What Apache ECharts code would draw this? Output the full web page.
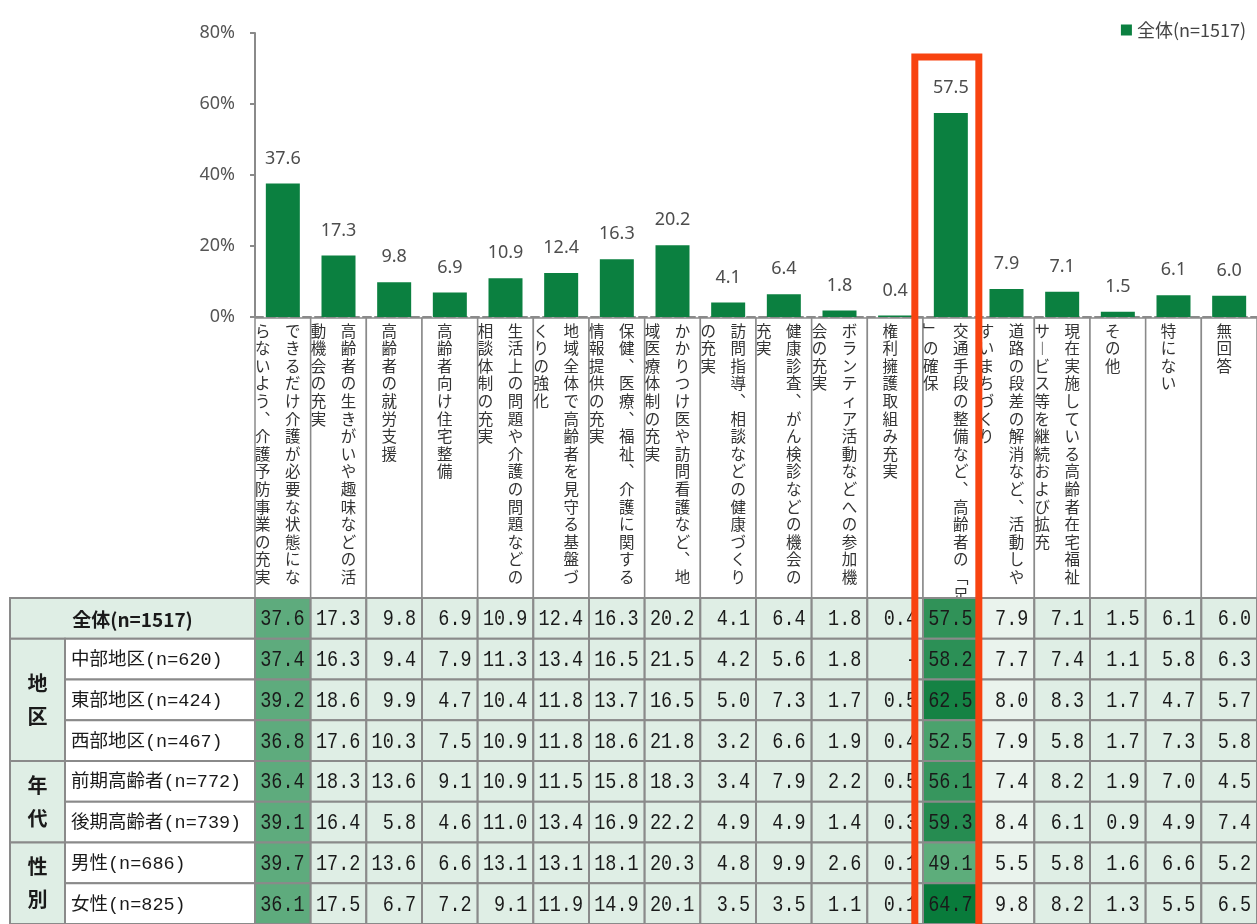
<!DOCTYPE html>
<html>
<head>
    <meta charset="utf-8">
    <script src="https://cdn.jsdelivr.net/npm/echarts@6/dist/echarts.min.js"></script>
    <style>
        html, body { margin: 0; padding: 0; background: #fff; }
        #main { width: 1257px; height: 924px; }
    </style>
</head>
<body>
    <div id="main"></div>
    <script>

        var categories = [
            'できるだけ介護が必要な状態にならないよう、介護予防事業の充実',
            '高齢者の生きがいや趣味などの活動機会の充実',
            '高齢者の就労支援',
            '高齢者向け住宅整備',
            '生活上の問題や介護の問題などの相談体制の充実',
            '地域全体で高齢者を見守る基盤づくりの強化',
            '保健、医療、福祉、介護に関する情報提供の充実',
            'かかりつけ医や訪問看護など、地域医療体制の充実',
            '訪問指導、相談などの健康づくりの充実',
            '健康診査、がん検診などの機会の充実',
            'ボランティア活動などへの参加機会の充実',
            '権利擁護取組み充実',
            '交通手段の整備など、高齢者の「足」の確保',
            '道路の段差の解消など、活動しやすいまちづくり',
            '現在実施している高齢者在宅福祉サービス等を継続および拡充',
            'その他',
            '特にない',
            '無回答'
        ];

        var seriesName = '全体(n=1517)';
        var overall = [37.6, 17.3, 9.8, 6.9, 10.9, 12.4, 16.3, 20.2, 4.1, 6.4, 1.8, 0.4, 57.5, 7.9, 7.1, 1.5, 6.1, 6.0];

        var rowLabels = ['全体(n=1517)', '中部地区(n=620)', '東部地区(n=424)', '西部地区(n=467)',
            '前期高齢者(n=772)', '後期高齢者(n=739)', '男性(n=686)', '女性(n=825)'];
        var rowGroups = ['', '地区', '地区', '地区', '年代', '年代', '性別', '性別'];

        var chubu  = [37.4, 16.3, 9.4, 7.9, 11.3, 13.4, 16.5, 21.5, 4.2, 5.6, 1.8, null, 58.2, 7.7, 7.4, 1.1, 5.8, 6.3];
        var tobu   = [39.2, 18.6, 9.9, 4.7, 10.4, 11.8, 13.7, 16.5, 5.0, 7.3, 1.7, 0.5, 62.5, 8.0, 8.3, 1.7, 4.7, 5.7];
        var seibu  = [36.8, 17.6, 10.3, 7.5, 10.9, 11.8, 18.6, 21.8, 3.2, 6.6, 1.9, 0.4, 52.5, 7.9, 5.8, 1.7, 7.3, 5.8];
        var zenki  = [36.4, 18.3, 13.6, 9.1, 10.9, 11.5, 15.8, 18.3, 3.4, 7.9, 2.2, 0.5, 56.1, 7.4, 8.2, 1.9, 7.0, 4.5];
        var koki   = [39.1, 16.4, 5.8, 4.6, 11.0, 13.4, 16.9, 22.2, 4.9, 4.9, 1.4, 0.3, 59.3, 8.4, 6.1, 0.9, 4.9, 7.4];
        var male   = [39.7, 17.2, 13.6, 6.6, 13.1, 13.1, 18.1, 20.3, 4.8, 9.9, 2.6, 0.1, 49.1, 5.5, 5.8, 1.6, 6.6, 5.2];
        var female = [36.1, 17.5, 6.7, 7.2, 9.1, 11.9, 14.9, 20.1, 3.5, 3.5, 1.1, 0.1, 64.7, 9.8, 8.2, 1.3, 5.5, 6.5];
        var tableRows = [overall, chubu, tobu, seibu, zenki, koki, male, female];

        var highlightIndex = 12;

        // vertical (tategaki) label helpers
        var verticalForms = { '、': '︑', 'ー': '︱', '「': '﹁', '」': '﹂' };

        function splitColumns(name) {
            var cols = [], cur = '', n = 0;
            for (var i = 0; i < name.length; i++) {
                var ch = name[i];
                if (n === 15) {
                    cols.push(cur);
                    cur = '';
                    n = 0;
                }
                cur += ch;
                if (ch !== '「') n++;
            }
            if (cur) cols.push(cur);
            return cols;
        }

        function verticalText(col) {
            return col.split('').map(function (ch) {
                return verticalForms[ch] || ch;
            }).join('\n');
        }

        function mix(a, b, t) {
            var pa = [parseInt(a.substr(1, 2), 16), parseInt(a.substr(3, 2), 16), parseInt(a.substr(5, 2), 16)];
            var pb = [parseInt(b.substr(1, 2), 16), parseInt(b.substr(3, 2), 16), parseInt(b.substr(5, 2), 16)];
            return 'rgb(' + pa.map(function (v, i) {
                return Math.round(v + (pb[i] - v) * t);
            }).join(',') + ')';
        }

        function cellFill(col, v) {
            if (col === 0) return '#5eab7d';
            if (col === highlightIndex) {
                var t = Math.max(0, Math.min(1, (v - 48) / 17));
                return mix('#63b07f', '#077a3a', t);
            }
            if (col === highlightIndex + 1) return '#eaf3ed';
            return '#dfeee5';
        }

        var cellData = [];
        tableRows.forEach(function (row, r) {
            row.forEach(function (v, c) {
                cellData.push([c, r, v]);
            });
        });

        function renderHead(params, api) {
            var idx = params.dataIndex;
            var pt = api.coord([idx, 0]);
            var w = api.size([1, 1])[0];
            var cs = params.coordSys;
            var cols = splitColumns(categories[idx]);
            var children = [{
                type: 'rect',
                shape: { x: pt[0] - w / 2, y: cs.y, width: w, height: cs.height },
                style: { fill: '#fff', stroke: '#8a8a8a', lineWidth: 1.5 }
            }];
            cols.forEach(function (col, k) {
                children.push({
                    type: 'text',
                    style: {
                        text: verticalText(col),
                        x: pt[0] - 5 + ((cols.length - 1) / 2 - k) * 30,
                        y: cs.y + 4,
                        align: 'center',
                        verticalAlign: 'top',
                        fontSize: 15.5,
                        lineHeight: 17.6,
                        fontFamily: '"Noto Sans CJK JP"',
                        fill: '#333'
                    }
                });
            });
            return { type: 'group', children: children };
        }

        function renderCell(params, api) {
            var c = api.value(0), r = api.value(1), v = api.value(2);
            var pt = api.coord([c, r]);
            var size = api.size([1, 1]);
            var text = isNaN(v) ? '-' : v.toFixed(1);
            return {
                type: 'group',
                children: [{
                    type: 'rect',
                    shape: { x: pt[0] - size[0] / 2, y: pt[1] - size[1] / 2, width: size[0], height: size[1] },
                    style: { fill: cellFill(c, v), stroke: '#8a8a8a', lineWidth: 2 }
                }, {
                    type: 'text',
                    x: pt[0] + size[0] / 2 - 6,
                    y: pt[1] + 1,
                    scaleY: 1.22,
                    style: {
                        text: text,
                        x: 0,
                        y: 0,
                        align: 'right',
                        verticalAlign: 'middle',
                        fontSize: 18.5,
                        fontFamily: '"Liberation Mono", monospace',
                        fill: '#1a1a1a'
                    }
                }]
            };
        }

        function renderRowHead(params, api) {
            var r = params.dataIndex;
            var pt = api.coord([0, r]);
            var h = api.size([1, 1])[1];
            var cs = params.coordSys;
            var x0 = cs.x - 245, xg = cs.x - 190;
            var top = pt[1] - h / 2;
            var grp = rowGroups[r];
            var children = [];
            var border = { stroke: '#8a8a8a', lineWidth: 2 };
            if (!grp) {
                children.push({
                    type: 'rect',
                    shape: { x: x0, y: top, width: cs.x - x0, height: h },
                    style: { fill: '#dfeee5', stroke: border.stroke, lineWidth: border.lineWidth }
                }, {
                    type: 'text',
                    style: {
                        text: rowLabels[r], x: (x0 + cs.x) / 2, y: pt[1] + 1,
                        align: 'center', verticalAlign: 'middle',
                        fontSize: 19, fontWeight: 'bold', fontFamily: '"Noto Sans CJK JP"', fill: '#1a1a1a'
                    }
                });
                return { type: 'group', children: children };
            }
            if (r === 0 || rowGroups[r - 1] !== grp) {
                var n = 0;
                while (rowGroups[r + n] === grp) n++;
                children.push({
                    type: 'rect',
                    shape: { x: x0, y: top, width: xg - x0, height: h * n },
                    style: { fill: '#dfeee5', stroke: border.stroke, lineWidth: border.lineWidth }
                }, {
                    type: 'text',
                    style: {
                        text: grp.split('').join('\n'), x: (x0 + xg) / 2, y: top + h * n / 2,
                        align: 'center', verticalAlign: 'middle', lineHeight: 33,
                        fontSize: 20, fontWeight: 'bold', fontFamily: '"Noto Sans CJK JP"', fill: '#1a1a1a'
                    }
                });
            }
            children.push({
                type: 'rect',
                shape: { x: xg, y: top, width: cs.x - xg, height: h },
                style: { fill: '#fff', stroke: border.stroke, lineWidth: border.lineWidth }
            }, {
                type: 'text',
                style: {
                    text: rowLabels[r], x: xg + 6, y: pt[1] + 1,
                    align: 'left', verticalAlign: 'middle',
                    fontSize: 18.5, fontFamily: '"Liberation Mono", "Noto Sans CJK JP"', fill: '#1a1a1a'
                }
            });
            return { type: 'group', children: children };
        }

        var chart = echarts.init(document.getElementById('main'));

        var option = {
            animation: false,
            backgroundColor: '#fff',
            legend: {
                data: [seriesName],
                right: 6,
                top: 16,
                icon: 'rect',
                itemWidth: 11,
                itemHeight: 11,
                itemGap: 6,
                textStyle: { fontSize: 18, color: '#444', fontFamily: '"Noto Sans CJK JP"' }
            },
            grid: [
                { left: 255, top: 33, width: 1008, height: 284 },
                { left: 255, top: 318, width: 1008, height: 280 },
                { left: 255, top: 598, width: 1008, height: 331 }
            ],
            xAxis: [{
                gridIndex: 0,
                type: 'category',
                data: categories,
                axisLine: { lineStyle: { color: '#8a8a8a', width: 2, type: 'dashed' } },
                axisTick: { show: false },
                axisLabel: { show: false }
            }, {
                gridIndex: 1,
                type: 'category',
                data: categories,
                show: false
            }, {
                gridIndex: 2,
                type: 'category',
                data: categories,
                show: false
            }],
            yAxis: [{
                gridIndex: 0,
                type: 'value',
                min: 0,
                max: 80,
                interval: 20,
                axisLine: { show: true, lineStyle: { color: '#8a8a8a', width: 2 } },
                axisTick: { show: true, length: 5, lineStyle: { color: '#8a8a8a', width: 2 } },
                splitLine: { show: false },
                axisLabel: {
                    formatter: '{value}%',
                    margin: 20,
                    fontSize: 18,
                    color: '#555',
                    fontFamily: '"Noto Sans"'
                }
            }, {
                gridIndex: 1,
                type: 'category',
                data: ['label'],
                show: false
            }, {
                gridIndex: 2,
                type: 'category',
                data: rowLabels,
                inverse: true,
                show: false
            }],
            series: [{
                name: seriesName,
                type: 'bar',
                xAxisIndex: 0,
                yAxisIndex: 0,
                data: overall,
                barWidth: 34,
                itemStyle: { color: '#0b8040' },
                label: {
                    show: true,
                    position: 'top',
                    distance: 16,
                    fontSize: 18,
                    color: '#4d4d4d',
                    fontFamily: '"Noto Sans"',
                    formatter: function (p) { return p.value.toFixed(1); }
                }
            }, {
                type: 'custom',
                xAxisIndex: 1,
                yAxisIndex: 1,
                renderItem: renderHead,
                data: categories.map(function (c, i) { return [i, 0]; })
            }, {
                type: 'custom',
                xAxisIndex: 2,
                yAxisIndex: 2,
                renderItem: renderCell,
                data: cellData
            }, {
                type: 'custom',
                xAxisIndex: 2,
                yAxisIndex: 2,
                renderItem: renderRowHead,
                data: rowLabels.map(function (l, i) { return [0, i]; })
            }]
        };

        chart.setOption(option);

        // red frame round the highlighted category
        var cx = chart.convertToPixel({ xAxisIndex: 0 }, highlightIndex);
        chart.setOption({
            graphic: [{
                type: 'rect',
                z: 100,
                shape: { x: cx - 36, y: 57, width: 64, height: 900 },
                style: { fill: 'none', stroke: '#f84310', lineWidth: 7 }
            }]
        });

    </script>
</body>
</html>
